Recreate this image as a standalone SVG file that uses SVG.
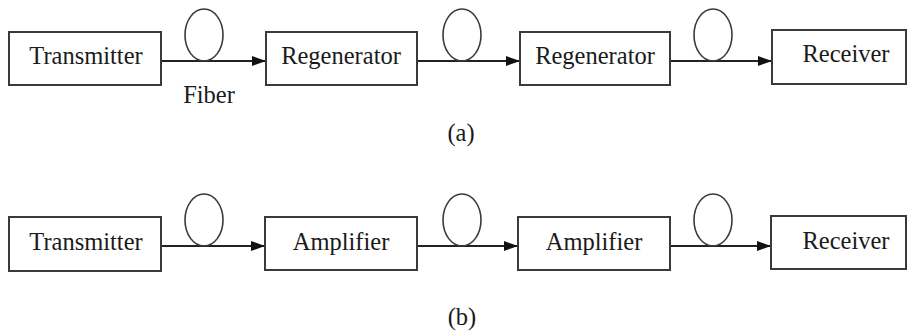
<svg xmlns="http://www.w3.org/2000/svg" width="912" height="333" viewBox="0 0 912 333">
<style>
.box{fill:#fff;stroke:#3a3a3a;stroke-width:2}
.fib{fill:none;stroke:#3a3a3a;stroke-width:1.6}
.ln{fill:none;stroke:#222;stroke-width:1.8}
.t{font-family:'Liberation Serif','Times New Roman','DejaVu Serif',serif;font-size:24.5px;fill:#1a1a1a;text-anchor:middle}
</style>
<defs>
<marker id="ah" markerWidth="14" markerHeight="10" refX="14" refY="5" orient="auto" markerUnits="userSpaceOnUse">
<path d="M0,0 L14,5 L0,10 Z" fill="#111"/>
</marker>
</defs>
<rect width="912" height="333" fill="#fff"/>
<g id="connectors">
<line class="ln" x1="161" y1="61" x2="266" y2="61" marker-end="url(#ah)"/>
<line class="ln" x1="417" y1="61" x2="520" y2="61" marker-end="url(#ah)"/>
<line class="ln" x1="670" y1="61" x2="772" y2="61" marker-end="url(#ah)"/>
<line class="ln" x1="161" y1="246" x2="265" y2="246" marker-end="url(#ah)"/>
<line class="ln" x1="417" y1="246" x2="518" y2="246" marker-end="url(#ah)"/>
<line class="ln" x1="670" y1="246" x2="771" y2="246" marker-end="url(#ah)"/>
</g>
<g id="fibers">
<ellipse class="fib" cx="204" cy="35" rx="19" ry="26"/>
<ellipse class="fib" cx="462" cy="35" rx="19" ry="26"/>
<ellipse class="fib" cx="713" cy="35" rx="19" ry="26"/>
<ellipse class="fib" cx="204" cy="220" rx="19" ry="26"/>
<ellipse class="fib" cx="462" cy="220" rx="19" ry="26"/>
<ellipse class="fib" cx="713" cy="220" rx="19" ry="26"/>
</g>
<g id="tx-a"><rect class="box" x="9" y="32" width="152" height="53"/><text class="t" x="86" y="64">Transmitter</text></g>
<g id="regen-1"><rect class="box" x="266" y="32" width="151" height="53"/><text class="t" x="341" y="64">Regenerator</text></g>
<g id="regen-2"><rect class="box" x="520" y="32" width="150" height="53"/><text class="t" x="595" y="64">Regenerator</text></g>
<g id="rx-a"><rect class="box" x="772" y="30" width="134" height="54"/><text class="t" x="846" y="62">Receiver</text></g>
<g id="tx-b"><rect class="box" x="9" y="217" width="152" height="54"/><text class="t" x="86" y="250">Transmitter</text></g>
<g id="amp-1"><rect class="box" x="265" y="217" width="152" height="53"/><text class="t" x="341" y="250">Amplifier</text></g>
<g id="amp-2"><rect class="box" x="518" y="217" width="152" height="53"/><text class="t" x="594" y="250">Amplifier</text></g>
<g id="rx-b"><rect class="box" x="771" y="216" width="135" height="53"/><text class="t" x="846" y="249">Receiver</text></g>
<text class="t" x="209" y="103">Fiber</text>
<text class="t" x="461" y="141">(a)</text>
<text class="t" x="462" y="325">(b)</text>
</svg>
